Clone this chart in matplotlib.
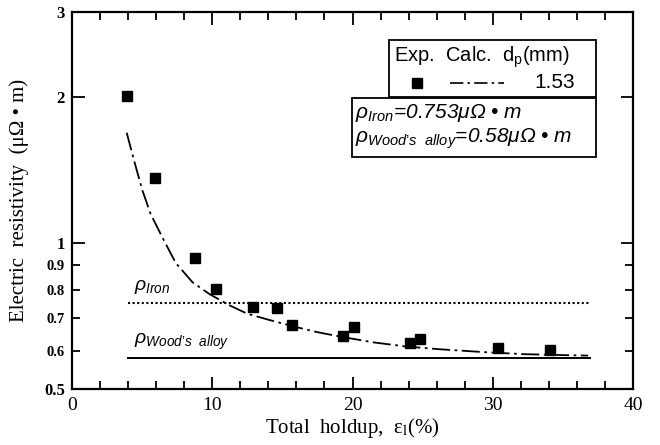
import numpy as np
import matplotlib
matplotlib.use("Agg")
import matplotlib.pyplot as plt
from matplotlib.lines import Line2D
from matplotlib.patches import Rectangle

# measured resistivity vs total holdup (d_p = 1.53 mm)
holdup_exp = [3.9, 5.9, 8.8, 10.3, 12.9, 14.6, 15.7, 19.3, 20.1, 24.1, 24.8, 30.4, 34.1]
rho_exp = [2.01, 1.36, 0.93, 0.805, 0.74, 0.735, 0.678, 0.644, 0.670, 0.623, 0.633, 0.608, 0.602]

# calculated curve
holdup_calc = [3.9, 4.4, 5.0, 5.6, 6.5, 7.4, 8.6, 9.8, 11.2, 12.5, 14.0, 15.9,
               17.5, 19.3, 21.5, 23.8, 26.2, 29.3, 32.2, 35.5, 36.8]
rho_calc = [1.69, 1.49, 1.29, 1.15, 1.02, 0.91, 0.83, 0.785, 0.745, 0.715, 0.695, 0.672,
            0.655, 0.64, 0.624, 0.612, 0.604, 0.596, 0.590, 0.587, 0.586]

# reference resistivities
rho_iron = 0.753
rho_wood = 0.58
ref_range = [4.0, 36.9]

fig = plt.figure(figsize=(6.6, 4.45), dpi=100)
W, H = 660, 445
ax = fig.add_axes([72 / W, 1 - 389 / H, (633 - 72) / W, (389 - 12) / H])

def px(x, y):
    # pixel position -> figure fraction
    return x / W, 1 - y / H

math_kw = dict(math_fontfamily="custom")
plt.rcParams["mathtext.fontset"] = "custom"
plt.rcParams["mathtext.rm"] = "Liberation Sans"
plt.rcParams["mathtext.it"] = "Liberation Sans:italic"

ax.plot(holdup_exp, rho_exp, "s", color="black", markersize=7.5, zorder=3)
ax.plot(holdup_calc, rho_calc, color="black", lw=1.3,
        linestyle=(0, (10, 2.5, 1.5, 2.5)))
ax.plot(ref_range, [rho_iron, rho_iron], color="black", lw=1.5, linestyle=(0, (1, 1.2)))
ax.plot(ref_range, [rho_wood, rho_wood], color="black", lw=1.4)

ax.set_yscale("log")
ax.set_xlim(0, 40)
ax.set_ylim(0.5, 3)

ax.set_xticks([0, 10, 20, 30, 40])
ax.set_xticks(np.arange(0, 41, 2), minor=True)
ax.set_xticklabels(["0", "10", "20", "30", "40"], family="Liberation Serif", fontsize=14)

ax.set_yticks([0.5, 1, 2, 3])
ax.set_yticklabels(["0.5", "1", "2", "3"], family="Liberation Serif",
                   fontsize=12, fontweight="bold")
ax.set_yticks([0.6, 0.7, 0.8, 0.9], minor=True)
ax.set_yticklabels(["0.6", "0.7", "0.8", "0.9"], minor=True, family="Liberation Serif",
                   fontsize=10.5, fontweight="bold")

ax.tick_params(which="both", direction="in", top=True, right=True, width=1.3)
ax.tick_params(which="major", length=9)
ax.tick_params(which="minor", length=6)
ax.tick_params(axis="x", which="both", pad=6)
ax.tick_params(axis="y", which="both", pad=5)
for s in ax.spines.values():
    s.set_linewidth(1.6)

ax.set_xlabel(r"Total  holdup,  ε$_{\mathrm{l}}$(%)", family="Liberation Serif",
              fontsize=15, math_fontfamily="stix", labelpad=1)
ax.set_ylabel("Electric  resistivity  (μΩ • m)", family="Liberation Serif",
              fontsize=15, labelpad=11)

# labels on the reference lines
ax.text(4.4, rho_iron * 1.035, r"$\rho_{Iron}$", fontsize=14, va="bottom", **math_kw)
ax.text(4.4, rho_wood * 1.03, r"$\rho_{Wood’s\ \ alloy}$", fontsize=14, va="bottom", **math_kw)

# key boxes
fig.patches.append(Rectangle(px(389, 97), (596 - 389) / W, (97 - 40) / H,
                             transform=fig.transFigure, fill=False, lw=1.3, color="black"))
fig.patches.append(Rectangle(px(352, 157), (596 - 352) / W, (157 - 98) / H,
                             transform=fig.transFigure, fill=False, lw=1.3, color="black"))
fig.text(*px(394, 57), r"Exp.  Calc.  d$_{\mathrm{p}}$(mm)", family="Liberation Sans",
         fontsize=14.5, va="center", **math_kw)
fig.lines.append(Line2D([px(417, 0)[0]], [px(0, 83)[1]], marker="s", color="black",
                        markersize=7, transform=fig.transFigure))
fig.lines.append(Line2D([px(450, 0)[0], px(504, 0)[0]], [px(0, 83)[1]] * 2, color="black",
                        lw=1.2, linestyle=(0, (8, 2.5, 1.5, 2.5)), transform=fig.transFigure))
fig.text(*px(575, 83), "1.53", family="Liberation Sans", fontsize=15, va="center", ha="right")
fig.text(*px(355, 113), r"$\rho_{Iron}$=0.753μΩ • m", family="Liberation Sans",
         style="italic", fontsize=15, va="center", **math_kw)
fig.text(*px(355, 139), r"$\rho_{Wood’s\ \ alloy}$=0.58μΩ • m", family="Liberation Sans",
         style="italic", fontsize=15, va="center", **math_kw)

fig.savefig("out.png", dpi=100, facecolor="white")
